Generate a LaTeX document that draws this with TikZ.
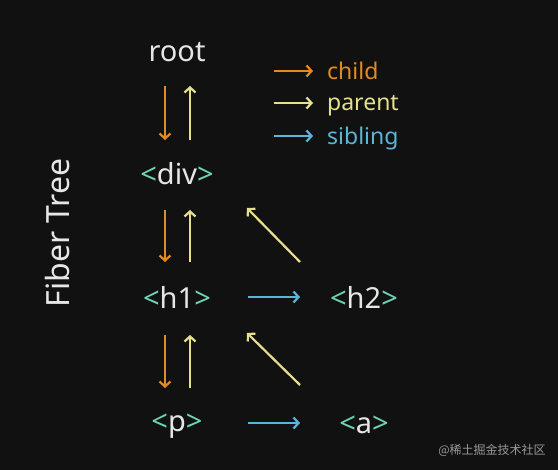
\documentclass[tikz,border=0pt]{standalone}
\usepackage{fontspec}
\setmainfont{Noto Sans}
\newfontfamily\cjk{Noto Sans CJK SC}
\usetikzlibrary{arrows.meta,calc}
\definecolor{bgdark}{HTML}{111111}
\definecolor{childc}{HTML}{E38B1F}
\definecolor{parentc}{HTML}{E6E08C}
\definecolor{siblingc}{HTML}{5AB6D8}
\definecolor{tagc}{HTML}{6ED4B6}
\definecolor{textc}{HTML}{E6E6E6}
\newcommand{\tg}[1]{{\color{tagc}#1}}
\tikzset{
	tag/.style={text=textc,font=\fontsize{29}{32}\selectfont,inner sep=0pt},
	legend/.style={font=\fontsize{23}{26}\selectfont,inner sep=0pt,anchor=west},
	link/.style={line width=2.2pt,-{Straight Barb[length=5pt,width=11pt]}},
	child/.style={link,draw=childc},
	parent/.style={link,draw=parentc},
	sibling/.style={link,draw=siblingc}
}
\begin{document}
\begin{tikzpicture}[x=1pt,y=-1pt]
	\fill[bgdark] (0,0) rectangle (558,470);
	\useasboundingbox (0,0) rectangle (558,470);
	\node[tag] (root) at (177,52)	{root};
	\node[tag] (div) at (177,174)	{\tg{<}div\tg{>}};
	\node[tag] (h1) at (177,297)	{\tg{<}h1\tg{>}};
	\node[tag] (h2) at (364,297)	{\tg{<}h2\tg{>}};
	\node[tag] (p) at (177,426)	{\tg{<}p\tg{>}};
	\node[tag] (a) at (364,425)	{\tg{<}a\tg{>}};
	\node[tag,font=\fontsize{32}{34}\selectfont,rotate=90] (title) at (58,233)	{Fiber Tree};

	% legend
	\node[legend,text=childc] (lchild) at (327,71)	{child};
	\node[legend,text=parentc] (lparent) at (327,106)	{parent};
	\node[legend,text=siblingc] (lsibling) at (327,139)	{sibling};
	\draw[child] ($(lchild.west)+(-53,0)$) -- ($(lchild.west)+(-14,0)$);
	\draw[parent] ($(lparent.west)+(-53,-3)$) -- ($(lparent.west)+(-14,-3)$);
	\draw[sibling] ($(lsibling.west)+(-53,-3)$) -- ($(lsibling.west)+(-14,-3)$);

	\draw[child] ($(root)+(-12,34)$) -- ($(div)+(-12,-34)$);
	\draw[parent] ($(div)+(13,-34)$) -- ($(root)+(13,34)$);
	\draw[child] ($(div)+(-12,36)$) -- ($(h1)+(-12,-35)$);
	\draw[parent] ($(h1)+(13,-35)$) -- ($(div)+(13,36)$);
	\draw[child] ($(h1)+(-12,38)$) -- ($(p)+(-12,-38)$);
	\draw[parent] ($(p)+(13,-38)$) -- ($(h1)+(13,38)$);

	\draw[parent] ($(h2)+(-64,-35)$) -- ($(div)+(70,34)$);
	\draw[parent] ($(a)+(-64,-40)$) -- ($(h1)+(70,36)$);
	\draw[sibling] ($(h1)+(71,0)$) -- ($(h2)+(-64,0)$);
	\draw[sibling] ($(p)+(71,-3)$) -- ($(a)+(-64,-2)$);

	\node[text=gray!80,font=\cjk\fontsize{12}{14}\selectfont,inner sep=0pt] (mark) at (492,450)	{@稀土掘金技术社区};
\end{tikzpicture}
\end{document}
